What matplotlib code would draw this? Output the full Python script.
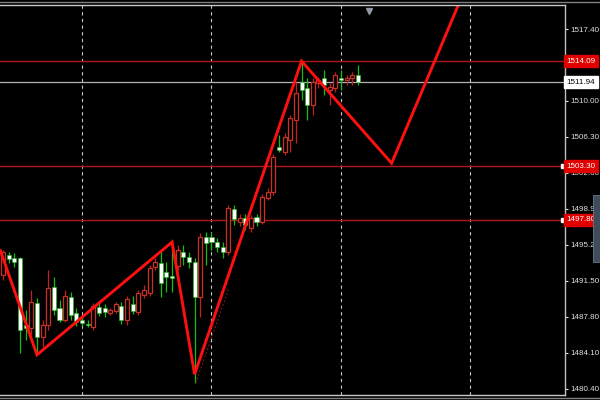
import matplotlib
matplotlib.use('Agg')
import matplotlib.pyplot as plt
from matplotlib.patches import Rectangle
from matplotlib.lines import Line2D
import numpy as np

# candles (bar index = position from left)
opens = [1494.48, 1493.76, 1493.45, 1486.46, 1486.67, 1489.34, 1485.74, 1486.98, 1490.77, 1488.52,
         1487.49, 1489.95, 1488.00, 1487.28, 1487.18, 1486.98, 1488.92, 1488.21, 1488.31, 1488.52,
         1489.13, 1487.49, 1489.65, 1488.41, 1490.26, 1490.57, 1492.83, 1493.45, 1491.29, 1491.91,
         1491.80, 1494.68, 1493.96, 1493.45, 1489.85, 1496.02, 1495.40, 1495.51, 1494.99, 1494.48,
         1499.00, 1497.87, 1497.97, 1497.26, 1497.97, 1497.56, 1500.13, 1500.64, 1504.24, 1504.96,
         1506.30, 1508.25, 1510.82, 1511.13, 1509.59, 1511.95, 1512.16, 1511.64, 1511.44, 1512.67,
         1512.16, 1512.36, 1512.67, 1511.95]
closes = [1492.11, 1494.17, 1493.86, 1493.86, 1486.98, 1486.67, 1489.24, 1485.74, 1486.98, 1490.88,
          1488.72, 1487.49, 1489.85, 1488.21, 1487.49, 1487.08, 1486.77, 1488.82, 1488.72, 1488.21,
          1488.41, 1488.92, 1487.49, 1489.13, 1488.31, 1490.06, 1490.26, 1492.93, 1493.35, 1492.42,
          1492.01, 1493.04, 1494.48, 1493.96, 1493.45, 1489.85, 1496.02, 1496.02, 1495.51, 1494.99,
          1494.48, 1498.90, 1497.56, 1497.97, 1496.94, 1498.07, 1497.56, 1500.02, 1500.64, 1505.27,
          1504.76, 1505.99, 1508.05, 1511.95, 1511.33, 1509.59, 1511.85, 1512.36, 1511.13, 1511.33,
          1512.36, 1512.16, 1512.36, 1512.67]
highs = [1494.68, 1494.48, 1494.37, 1493.96, 1488.52, 1490.57, 1489.75, 1487.49, 1492.63, 1491.91,
         1489.54, 1490.57, 1490.36, 1488.72, 1487.90, 1487.49, 1489.24, 1489.24, 1489.13, 1488.72,
         1489.34, 1489.34, 1489.95, 1489.95, 1490.57, 1491.08, 1493.14, 1493.86, 1494.68, 1493.45,
         1495.51, 1495.20, 1495.20, 1494.48, 1493.86, 1496.43, 1496.53, 1496.53, 1495.92, 1495.51,
         1499.31, 1499.31, 1498.38, 1498.38, 1498.28, 1498.38, 1500.44, 1501.05, 1504.55, 1506.50,
         1506.71, 1508.56, 1511.95, 1514.11, 1512.36, 1512.36, 1512.46, 1513.18, 1511.85, 1512.98,
         1513.18, 1512.67, 1512.98, 1513.70]
lows = [1491.60, 1493.35, 1492.93, 1484.10, 1485.43, 1485.95, 1483.90, 1484.71, 1486.46, 1488.00,
        1487.28, 1487.28, 1487.49, 1486.87, 1486.87, 1486.77, 1486.46, 1487.90, 1487.79, 1488.00,
        1488.21, 1487.08, 1486.98, 1488.10, 1488.00, 1489.75, 1489.95, 1492.63, 1489.85, 1490.36,
        1490.36, 1492.63, 1493.14, 1492.83, 1481.01, 1487.79, 1493.14, 1494.68, 1494.48, 1493.86,
        1494.17, 1497.26, 1497.15, 1496.74, 1496.53, 1497.15, 1497.35, 1499.82, 1500.34, 1504.76,
        1504.45, 1504.76, 1505.68, 1510.10, 1508.05, 1508.56, 1511.33, 1510.61, 1509.59, 1510.92,
        1511.13, 1511.64, 1511.64, 1511.64]

# zigzag indicator
zz_x = [-0.5, 6, 30, 34, 53, 69, 81.6]
zz_y = [1494.6, 1483.9, 1495.5, 1481.9, 1514.1, 1503.6, 1520.9]

# horizontal levels
levels = [1514.09, 1503.30, 1497.80]
current = 1511.94
price_ticks = [1480.40, 1484.10, 1487.80, 1491.50, 1495.20, 1498.90, 1502.60, 1506.30, 1510.00, 1513.70, 1517.40]
grid_bars = [14, 37, 60, 83]

fig = plt.figure(figsize=(6, 4), dpi=100, facecolor='black')
ax = fig.add_axes([0, 5/400, 565/600, 390/400])
ax.set_facecolor('black')
ax.set_xlim(-0.57, 99.8)
ax.set_ylim(1479.77, 1519.87)

for b in grid_bars:
    ax.axvline(b, color='#c8c8c8', lw=0.8, ls=(0, (3, 3)), zorder=1)

for lv in levels:
    ax.axhline(lv, color='#b01818', lw=1.0, zorder=2)
    if lv != 1514.09:
        ax.plot(99.4, lv, marker='s', ms=2.5, color='white', zorder=6, clip_on=False)
ax.axhline(current, color='#b4b4b4', lw=0.9, zorder=2)

# candles
w = 0.72
for i in range(len(opens)):
    o, c, h, l = opens[i], closes[i], highs[i], lows[i]
    if c >= o:
        ax.vlines(i, l, h, color='#10c010', lw=0.9, zorder=3)
        ax.add_patch(Rectangle((i - w/2, o), w, max(c - o, 0.12), facecolor='white',
                               edgecolor='#10c010', lw=0.4, zorder=4))
    else:
        ax.vlines(i, l, h, color='#c02020', lw=0.9, zorder=3)
        ax.add_patch(Rectangle((i - w/2, c), w, o - c, facecolor='black',
                               edgecolor='#c83028', lw=0.9, zorder=4))

# faint dashed trend line
ax.plot([34.2, 40], [1481.0, 1490.6], color='#8a1c1c', lw=0.7, ls=(0, (2, 2)), zorder=5)

ax.plot(zz_x, zz_y, color='#ff1010', lw=2.1, zorder=6, solid_joinstyle='miter')

# marker at top
ax.plot(65, 1519.3, marker='v', ms=5, color='#9098a8', zorder=7, clip_on=False)

# right price scale
ax.yaxis.tick_right()
ax.set_yticks(price_ticks)
ax.set_yticklabels(['%.2f' % t for t in price_ticks])
ax.tick_params(axis='y', colors='#e0e0e0', labelsize=5.8, length=2, width=0.8, pad=2)
for lab in ax.get_yticklabels():
    lab.set_family('Liberation Sans')
ax.set_xticks([])
for side in ['left', 'top', 'bottom']:
    ax.spines[side].set_visible(False)
ax.spines['right'].set_color('#c0c0c0')
ax.spines['right'].set_linewidth(1.0)

trans = ax.get_yaxis_transform()
for lv in levels:
    ax.text(1.003, lv, '%.2f' % lv, transform=trans, fontsize=5.8, family='Liberation Sans',
            color='white', va='center', ha='left', zorder=10, clip_on=False,
            bbox=dict(boxstyle='square,pad=0.3', facecolor='#e00000', edgecolor='#e00000'))
ax.text(1.003, current, '%.2f' % current, transform=trans, fontsize=5.8, family='Liberation Sans',
        color='black', va='center', ha='left', zorder=10, clip_on=False,
        bbox=dict(boxstyle='square,pad=0.3', facecolor='white', edgecolor='white'))

# window frame lines
fig.add_artist(Line2D([0, 1], [1 - 1.5/400, 1 - 1.5/400], color='#808080', lw=1.0))
fig.add_artist(Line2D([0, 565/600], [1 - 4.5/400, 1 - 4.5/400], color='#c8c8c8', lw=1.0))
fig.add_artist(Line2D([0, 565/600], [5/400, 5/400], color='#c8c8c8', lw=1.0))
fig.add_artist(Line2D([0, 1], [2/400, 2/400], color='#808080', lw=1.0))
fig.add_artist(Rectangle((593/600, 138/400), 7/600, 67/400, transform=fig.transFigure,
                         facecolor='#3e4c5c', edgecolor='#6a7888', lw=0.6))

fig.savefig('out.png', dpi=100, facecolor='black')
